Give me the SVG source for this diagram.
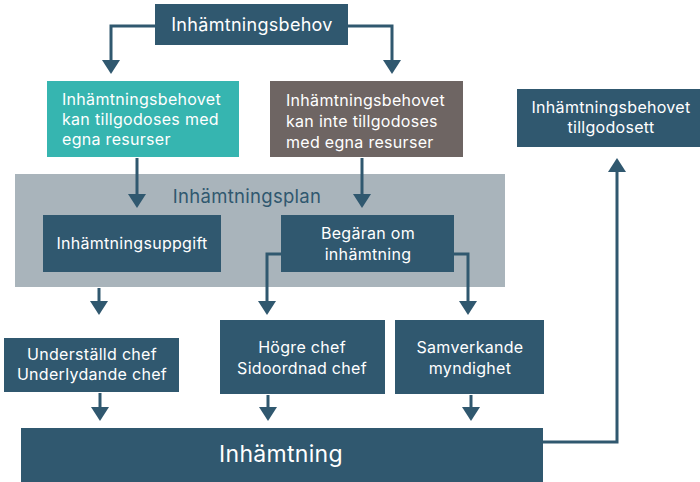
<svg xmlns="http://www.w3.org/2000/svg" width="700" height="482" viewBox="0 0 700 482">
  <defs>
    <marker id="head" viewBox="0 0 14 18" refX="0" refY="9" markerWidth="14" markerHeight="18" markerUnits="userSpaceOnUse" orient="auto">
      <path d="M0,0 L14,9 L0,18 Z" fill="#30586f"/>
    </marker>
    <style>
      .box { fill: #30586f; }
      .teal { fill: #36b5b0; }
      .brown { fill: #6e6563; }
      .plan { fill: #a9b4bb; }
      text { font-family: Inter, "Noto Sans", "Liberation Sans", sans-serif; }
      .t { fill: #ffffff; font-size: 16px; letter-spacing: 0.3px; }
      .c { text-anchor: middle; }
      .big { font-size: 18px; }
      .huge { font-size: 23px; }
      .lbl { fill: #30586f; font-size: 18.5px; letter-spacing: 0.3px; text-anchor: middle; }
      .edge { fill: none; stroke: #30586f; stroke-width: 3; marker-end: url(#head); }
    </style>
  </defs>

  <!-- background panel for the plan -->
  <g id="plan">
    <rect class="plan" x="15" y="174" width="490" height="113"/>
    <text class="lbl" x="247" y="203">Inhämtningsplan</text>
  </g>

  <g id="behov">
    <rect class="box" x="155" y="4" width="193" height="41"/>
    <text class="t c big" x="252" y="31">Inhämtningsbehov</text>
  </g>

  <g id="egna">
    <rect class="teal" x="47" y="81" width="192" height="76"/>
    <text class="t" x="62" y="105">Inhämtningsbehovet</text>
    <text class="t" x="62" y="125">kan tillgodoses med</text>
    <text class="t" x="62" y="145">egna resurser</text>
  </g>

  <g id="ej-egna">
    <rect class="brown" x="270" y="81" width="193" height="76"/>
    <text class="t" x="286" y="106">Inhämtningsbehovet</text>
    <text class="t" x="286" y="127">kan inte tillgodoses</text>
    <text class="t" x="286" y="148">med egna resurser</text>
  </g>

  <g id="tillgodosett">
    <rect class="box" x="517" y="89" width="190" height="58"/>
    <text class="t c" x="611" y="113">Inhämtningsbehovet</text>
    <text class="t c" x="611" y="133">tillgodosett</text>
  </g>

  <g id="uppgift">
    <rect class="box" x="43" y="215" width="178" height="57"/>
    <text class="t c" x="132" y="249">Inhämtningsuppgift</text>
  </g>

  <g id="begaran">
    <rect class="box" x="281" y="215" width="173" height="57"/>
    <text class="t c" x="368" y="239">Begäran om</text>
    <text class="t c" x="368" y="260">inhämtning</text>
  </g>

  <g id="understalld">
    <rect class="box" x="4" y="338" width="175" height="54"/>
    <text class="t c" x="92" y="360">Underställd chef</text>
    <text class="t c" x="92" y="380">Underlydande chef</text>
  </g>

  <g id="hogre">
    <rect class="box" x="220" y="320" width="165" height="74"/>
    <text class="t c" x="302" y="353">Högre chef</text>
    <text class="t c" x="302" y="374">Sidoordnad chef</text>
  </g>

  <g id="samverkande">
    <rect class="box" x="395" y="320" width="149" height="74"/>
    <text class="t c" x="470" y="353">Samverkande</text>
    <text class="t c" x="470" y="374">myndighet</text>
  </g>

  <g id="inhamtning">
    <rect class="box" x="21" y="428" width="522" height="54"/>
    <text class="t c huge" x="281" y="462">Inhämtning</text>
  </g>

  <g id="connectors">
    <path class="edge" d="M155,26 H111 V60"/>
    <path class="edge" d="M348,26 H392 V60"/>
    <path class="edge" d="M137,158 V194"/>
    <path class="edge" d="M362,158 V194"/>
    <path class="edge" d="M281,254 H267 V301"/>
    <path class="edge" d="M454,254 H468 V301"/>
    <path class="edge" d="M99,288 V301"/>
    <path class="edge" d="M100,393 V407"/>
    <path class="edge" d="M268,395 V407"/>
    <path class="edge" d="M471,395 V407"/>
    <path class="edge" d="M543,442 H617 V172"/>
  </g>
</svg>
